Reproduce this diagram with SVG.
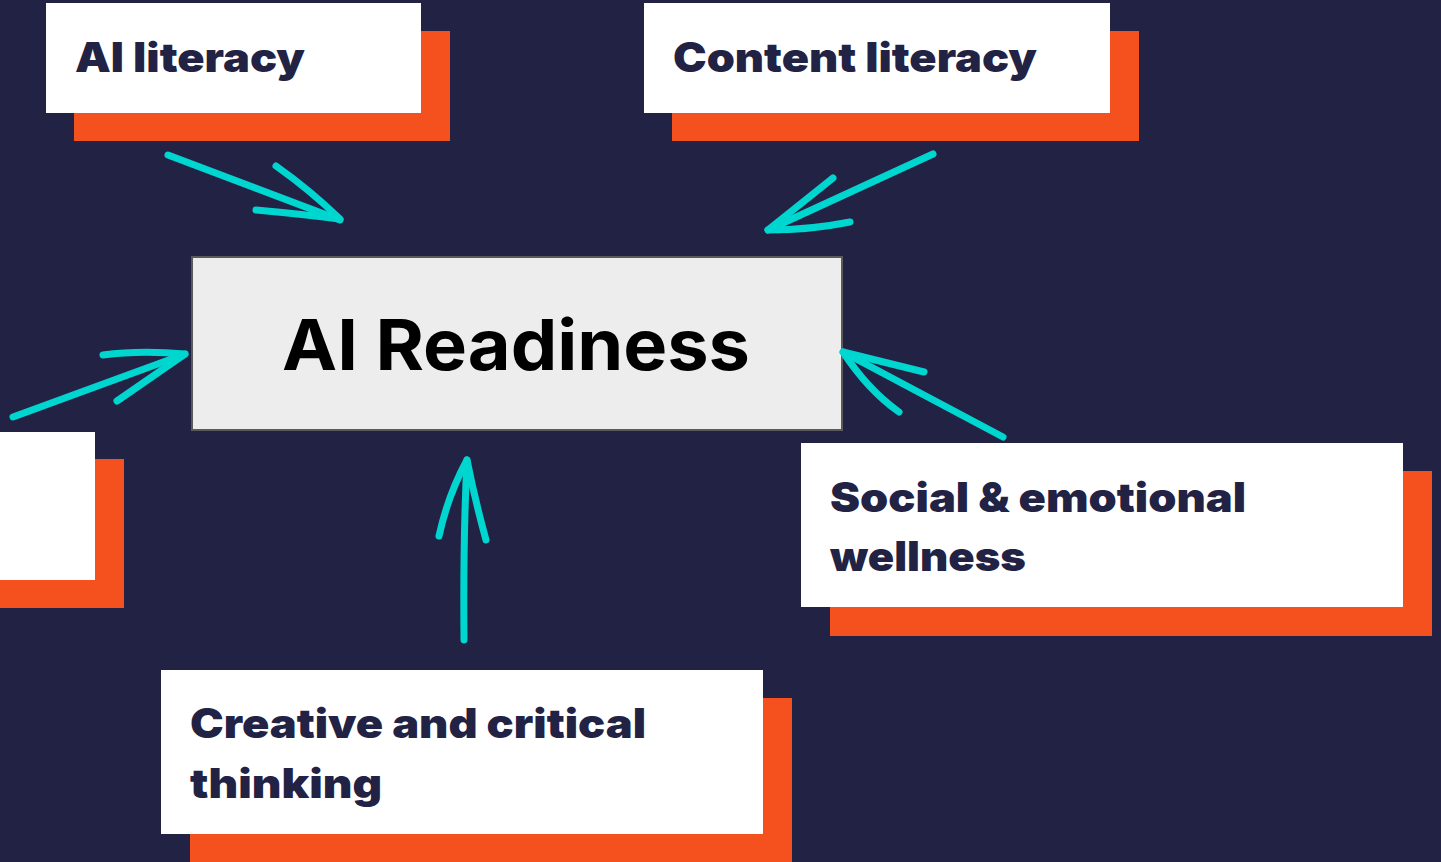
<svg xmlns="http://www.w3.org/2000/svg" width="1441" height="862" viewBox="0 0 1441 862">
<style>
.bg{fill:#222344}
.shadow{fill:#f4511e}
.card{fill:#ffffff}
.lbl{font-family:Inter,"Noto Sans",sans-serif;font-weight:900;font-size:41px;fill:#222344}
.title{font-family:Inter,"Noto Sans",sans-serif;font-weight:700;font-size:70px;fill:#000}
.arr{fill:none;stroke:#00d6d0;stroke-width:7;stroke-linecap:round;stroke-linejoin:round}
</style>
<rect class="bg" x="0" y="0" width="1441" height="862"/>
<g id="node-ai-literacy">
<rect class="shadow" x="74" y="31" width="376" height="110"/>
<rect class="card" x="46" y="3" width="375" height="110"/>
<text class="lbl" x="75" y="72" textLength="230" lengthAdjust="spacingAndGlyphs">AI literacy</text>
</g>
<g id="node-content-literacy">
<rect class="shadow" x="672" y="31" width="467" height="110"/>
<rect class="card" x="644" y="3" width="466" height="110"/>
<text class="lbl" x="673" y="72" textLength="364" lengthAdjust="spacingAndGlyphs">Content literacy</text>
</g>
<g id="node-left">
<rect class="shadow" x="0" y="459" width="124" height="149"/>
<rect class="card" x="0" y="432" width="95" height="148"/>
</g>
<g id="node-social">
<rect class="shadow" x="830" y="471" width="602" height="165"/>
<rect class="card" x="801" y="443" width="602" height="164"/>
<text class="lbl" x="830" y="512" textLength="416" lengthAdjust="spacingAndGlyphs">Social &amp; emotional</text>
<text class="lbl" x="830" y="571" textLength="196" lengthAdjust="spacingAndGlyphs">wellness</text>
</g>
<g id="node-creative">
<rect class="shadow" x="190" y="698" width="602" height="170"/>
<rect class="card" x="161" y="670" width="602" height="164"/>
<text class="lbl" x="190" y="738" textLength="456" lengthAdjust="spacingAndGlyphs">Creative and critical</text>
<text class="lbl" x="190" y="798" textLength="192" lengthAdjust="spacingAndGlyphs">thinking</text>
</g>
<g id="node-ai-readiness">
<rect x="192" y="257" width="650" height="173" fill="#ededed" stroke="#5a5a5a" stroke-width="2"/>
<text class="title" x="282" y="370" textLength="468" lengthAdjust="spacingAndGlyphs">AI Readiness</text>
</g>
<g id="connectors">
<path class="arr" d="M168,155 L340,220"/>
<path class="arr" d="M276,166 Q310,190 340,219 Q300,214 256,210"/>
<path class="arr" d="M933,154 L768,230"/>
<path class="arr" d="M833,178 L768,230 Q810,230 850,222"/>
<path class="arr" d="M13,417 L185,354"/>
<path class="arr" d="M103,355 Q140,350 185,354 L117,401"/>
<path class="arr" d="M1003,437 L843,352"/>
<path class="arr" d="M924,372 L843,352 Q868,390 899,412"/>
<path class="arr" d="M464,640 Q463,540 467,460"/>
<path class="arr" d="M439,536 Q448,495 467,460 Q475,500 486,540"/>
</g>
</svg>
